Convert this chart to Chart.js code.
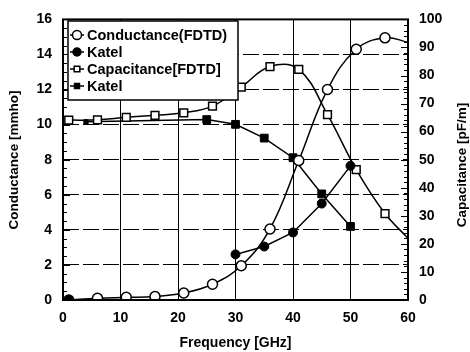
<!DOCTYPE html>
<html>
<head>
<meta charset="utf-8">
<script src="https://cdn.jsdelivr.net/npm/chart.js@4.4.1/dist/chart.umd.min.js"></script>
<style>
  html, body { margin: 0; padding: 0; background: #fff; }
</style>
</head>
<body>
<canvas id="chart" width="470" height="352"></canvas>
<script>
// Conductance / capacitance versus frequency, FDTD against Katel
var condFreq = [1, 6, 11, 16, 21, 26, 31, 36, 41, 46, 51, 56, 60];
var condFdtd = [0, 0.1, 0.15, 0.2, 0.4, 0.9, 1.95, 4.05, 7.95, 12.0, 14.3, 14.95, 14.7];

// Katel conductance: no values between the first sample and 30 GHz
var katelCondFreq = [1, 25, 30, 35, 40, 45, 50];
var katelCond = [0, null, 2.6, 3.05, 3.85, 5.5, 7.65];

var capFreq = [1, 6, 11, 16, 21, 26, 31, 36, 41, 46, 51, 56, 60];
var capFdtd = [64.1, 64.2, 65.1, 65.8, 66.7, 69.1, 75.9, 83.2, 82.2, 66.1, 46.5, 30.8, 22];

var katelCapFreq = [4, 25, 30, 35, 40, 45, 50];
var katelCap = [63.5, 64.3, 62.6, 57.7, 50.7, 37.8, 26.2];

var freqTicks = [0, 10, 20, 30, 40, 50, 60];
var condTicks = [0, 2, 4, 6, 8, 10, 12, 14, 16];
var capTicks = [0, 10, 20, 30, 40, 50, 60, 70, 80, 90, 100];

var legendLabels = ['Conductance(FDTD)', 'Katel', 'Capacitance[FDTD]', 'Katel'];

var FONT = '"Liberation Sans", Arial, Helvetica, sans-serif';

function toPoints(xs, ys) {
    return xs.map(function (x, i) { return { x: x, y: ys[i] }; });
}

// no marker on the point that sits on the right edge
function markers(xs, r) {
    return xs.map(function (x) { return x >= 60 ? 0 : r; });
}

var decorations = {
    id: 'decorations',
    afterDatasetsDraw: function (chart) {
        var ctx = chart.ctx;
        var a = chart.chartArea;
        var yL = chart.scales.y;
        var yR = chart.scales.y2;
        var v;

        ctx.save();
        ctx.strokeStyle = '#000';

        // inner ticks on the left axis
        ctx.lineWidth = 1;
        for (v = 0; v <= 16; v += 0.5) {
            var py = Math.round(yL.getPixelForValue(v)) + 0.5;
            ctx.beginPath();
            ctx.moveTo(a.left, py);
            ctx.lineTo(a.left + (v % 2 === 0 ? 7 : 4), py);
            ctx.stroke();
        }
        // inner ticks on the right axis
        for (v = 0; v <= 100; v += 2) {
            var ry = Math.round(yR.getPixelForValue(v)) + 0.5;
            ctx.beginPath();
            ctx.moveTo(a.right, ry);
            ctx.lineTo(a.right - (v % 10 === 0 ? 7 : 4), ry);
            ctx.stroke();
        }

        // frame
        ctx.lineWidth = 2;
        ctx.strokeRect(a.left, a.top, a.right - a.left, a.bottom - a.top);

        // legend box
        var bx = 68, by = 21, bw = 170, bh = 79;
        ctx.fillStyle = '#fff';
        ctx.fillRect(bx, by, bw, bh);
        ctx.lineWidth = 1.5;
        ctx.strokeRect(bx, by, bw, bh);

        ctx.font = 'bold 14.5px ' + FONT;
        ctx.textBaseline = 'middle';
        ctx.textAlign = 'left';
        chart.data.datasets.forEach(function (ds, i) {
            var ly = 35 + i * 17;
            ctx.strokeStyle = '#000';
            ctx.lineWidth = 1.5;
            ctx.beginPath();
            ctx.moveTo(70, ly);
            ctx.lineTo(84, ly);
            ctx.stroke();
            ctx.fillStyle = ds.pointBackgroundColor;
            Chart.helpers.drawPoint(ctx, {
                pointStyle: ds.pointStyle,
                radius: ds.legendRadius,
                rotation: 0,
                borderWidth: 1.5
            }, 77, ly);
            ctx.fillStyle = '#000';
            ctx.fillText(legendLabels[i], 87, ly + 1);
        });

        // rotated axis titles
        ctx.font = 'bold 13.5px ' + FONT;
        ctx.textAlign = 'center';
        ctx.fillStyle = '#000';
        ctx.translate(14, 160);
        ctx.rotate(-Math.PI / 2);
        ctx.fillText('Conductance [mmho]', 0, 0);
        ctx.rotate(Math.PI / 2);
        ctx.translate(-14, -160);
        ctx.translate(462, 165);
        ctx.rotate(-Math.PI / 2);
        ctx.fillText('Capacitance [pF/m]', 0, 0);
        ctx.restore();
    }
};

var tickFont = { family: FONT, size: 14, weight: 'bold' };

var ctx = document.getElementById('chart').getContext('2d');
new Chart(ctx, {
    type: 'line',
    data: {
        datasets: [{
            label: legendLabels[0],
            data: toPoints(condFreq, condFdtd),
            yAxisID: 'y',
            order: 1,
            borderColor: '#000',
            borderWidth: 1.5,
            tension: 0.4,
            pointStyle: 'circle',
            pointRadius: markers(condFreq, 5),
            legendRadius: 4.5,
            pointBorderWidth: 1.5,
            pointBorderColor: '#000',
            pointBackgroundColor: '#fff'
        }, {
            label: legendLabels[1],
            data: toPoints(katelCondFreq, katelCond),
            yAxisID: 'y',
            order: 0,
            spanGaps: false,
            borderColor: '#000',
            borderWidth: 1.5,
            tension: 0,
            pointStyle: 'circle',
            pointRadius: 4.5,
            legendRadius: 4,
            pointBorderWidth: 1,
            pointBorderColor: '#000',
            pointBackgroundColor: '#000'
        }, {
            label: legendLabels[2],
            data: toPoints(capFreq, capFdtd),
            yAxisID: 'y2',
            order: 1,
            borderColor: '#000',
            borderWidth: 1.5,
            tension: 0.4,
            pointStyle: 'rect',
            pointRadius: markers(capFreq, 5.5),
            legendRadius: 4,
            pointBorderWidth: 1.5,
            pointBorderColor: '#000',
            pointBackgroundColor: '#fff'
        }, {
            label: legendLabels[3],
            data: toPoints(katelCapFreq, katelCap),
            yAxisID: 'y2',
            order: 1,
            borderColor: '#000',
            borderWidth: 1.5,
            tension: 0,
            pointStyle: 'rect',
            pointRadius: katelCapFreq.map(function (f) { return f < 10 ? 3 : 5.5; }),
            legendRadius: 3.5,
            pointBorderWidth: 1,
            pointBorderColor: '#000',
            pointBackgroundColor: '#000'
        }]
    },
    options: {
        responsive: false,
        animation: false,
        layout: { padding: { top: 13, left: 0, right: 0, bottom: 0 } },
        plugins: {
            legend: { display: false },
            tooltip: { enabled: false }
        },
        scales: {
            x: {
                type: 'linear',
                min: 0,
                max: 60,
                afterFit: function (s) { s.height = 52; },
                afterBuildTicks: function (s) {
                    s.ticks = freqTicks.map(function (v) { return { value: v }; });
                },
                border: { display: false },
                grid: { color: '#000', lineWidth: 1, drawTicks: false },
                ticks: { padding: 10, color: '#000', font: tickFont },
                title: {
                    display: true,
                    text: 'Frequency [GHz]',
                    color: '#000',
                    padding: { top: 4, bottom: 0 },
                    font: { family: FONT, size: 14, weight: 'bold' }
                }
            },
            y: {
                position: 'left',
                min: 0,
                max: 16,
                afterFit: function (s) { s.width = 63; },
                afterBuildTicks: function (s) {
                    s.ticks = condTicks.map(function (v) { return { value: v }; });
                },
                border: { display: false, dash: [16, 4] },
                grid: { color: '#000', lineWidth: 1, drawTicks: false },
                ticks: { padding: 11, color: '#000', font: tickFont }
            },
            y2: {
                position: 'right',
                min: 0,
                max: 100,
                afterFit: function (s) { s.width = 62; },
                afterBuildTicks: function (s) {
                    s.ticks = capTicks.map(function (v) { return { value: v }; });
                },
                border: { display: false },
                grid: { drawOnChartArea: false, drawTicks: false },
                ticks: { padding: 11, color: '#000', font: tickFont }
            }
        }
    },
    plugins: [decorations]
});
</script>
</body>
</html>
